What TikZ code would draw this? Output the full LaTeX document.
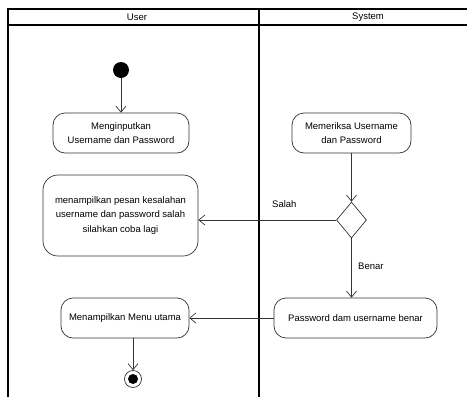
\documentclass[tikz,border=0pt]{standalone}
\usepackage{fontspec}
\setmainfont{Liberation Sans}
\usetikzlibrary{arrows.meta,shapes.geometric}
\begin{document}
\begin{tikzpicture}[x=1pt,y=-1pt,
  font=\fontsize{9.5}{14.5}\selectfont,
  lane/.style={line width=1.4pt,black},
  action/.style={draw=black!80,line width=0.7pt,rounded corners=12pt,align=center,inner sep=0pt},
  decision/.style={draw=black!80,line width=0.7pt,diamond,inner sep=0pt,minimum width=30pt,minimum height=36pt},
  flow/.style={draw=black!80,line width=0.7pt,-{Straight Barb[length=6pt,width=10pt,line width=0.7pt]}},
  lbl/.style={inner sep=0pt,anchor=base west}]
\useasboundingbox (0,0) rectangle (467,397);

% swimlane frame
\begin{scope}
  \clip (0,0) rectangle (467,397);
  \draw[lane] (8,420) -- (8,9) -- (490,9);
  \draw[lane] (8,25) -- (490,25);
  \draw[lane] (259,9) -- (259,420);
\end{scope}
\node (hUser) at (137,17.5) {User};
\node (hSystem) at (368,17.5) {System};

% initial and final states
\node[circle,fill=black,minimum size=16pt,inner sep=0pt] (start) at (121,70) {};
\node[circle,draw=black!80,line width=0.7pt,minimum size=17pt,inner sep=0pt] (stop) at (133,379) {};
\fill (stop.center) circle (5pt);

% actions
\node[action,minimum width=136pt,minimum height=40pt] (input) at (121,133)
  {Menginputkan\\Username dan Password};
\node[action,minimum width=119pt,minimum height=40pt] (check) at (351.5,133)
  {Memeriksa Username\\dan Password};
\node[action,rounded corners=15pt,minimum width=155pt,minimum height=81pt] (error) at (120.5,215.5)
  {menampilkan pesan kesalahan\\username dan password salah\\silahkan coba lagi};
\node[action,minimum width=128pt,minimum height=40pt] (menu) at (125,318)
  {Menampilkan Menu utama};
\node[action,minimum width=163pt,minimum height=40pt] (ok) at (355.5,318)
  {Password dam username benar};
\node[decision] (valid) at (351.5,220) {};

% guards
\node[lbl] (salah) at (272,207) {Salah};
\node[lbl] (benar) at (358,269) {Benar};

% control flow
\draw[flow] (start) -- (input);
\draw[flow] (check) -- (valid);
\draw[flow] (valid.west) -- (valid.west -| error.east);
\draw[flow] (valid.south) -- (valid.south |- ok.north);
\draw[flow] (ok) -- (menu);
\draw[flow] (menu.south -| stop) -- (stop);
\end{tikzpicture}
\end{document}
